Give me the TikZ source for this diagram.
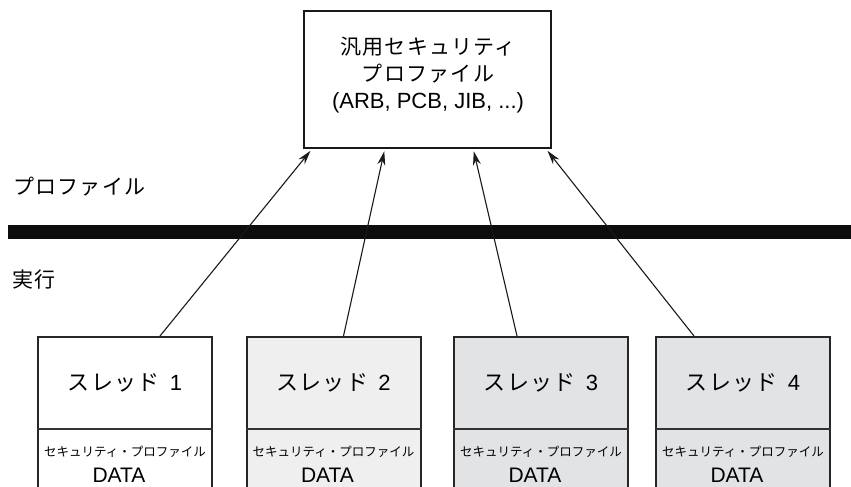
\documentclass[tikz,border=0pt]{standalone}
\usepackage{fontspec}
\setmainfont{Liberation Sans}
\newfontfamily\jp{Noto Sans CJK JP}
\newfontfamily\jpw[LetterSpace=6]{Noto Sans CJK JP}
\usetikzlibrary{arrows.meta}
\definecolor{fillA}{HTML}{EFEFEF}
\definecolor{fillB}{HTML}{E2E3E5}
\tikzset{
  profbox/.style={draw=black!90, line width=2.6pt, minimum width=247pt, minimum height=137pt, inner sep=0pt},
  thread/.style={draw=black!85, line width=2pt, minimum width=174pt, minimum height=170pt, inner sep=0pt},
  divider/.style={draw=black!80, line width=1.3pt},
  conn/.style={draw=black!90, line width=1.1pt, -{Stealth[length=14pt,width=8pt]}, shorten >=2pt},
  big/.style={font=\fontsize{21}{27}\selectfont, align=center, inner sep=0pt},
  tlabel/.style={font=\fontsize{22}{26}\selectfont, inner sep=0pt},
  small/.style={font=\fontsize{12.5}{15}\selectfont, inner sep=0pt},
  datal/.style={font=\fontsize{21}{24}\selectfont, inner sep=0pt},
}
\begin{document}
\begin{tikzpicture}[x=1pt,y=-1pt]
\clip (0,0) rectangle (851,487);
\fill[white] (0,0) rectangle (851,487);
% top profile box
\node[profbox] (prof) at (427.5,79.5) {};
\node[big] (proftext) at (428,75) {{\jpw 汎用セキュリティ}\\{\jpw プロファイル}\\{\fontsize{22}{27}\selectfont (ARB, PCB, JIB, ...)}};
% labels and bar
\node[big, anchor=west] (lprof) at (13,187) {\jpw プロファイル};
\fill[black!95] (8,225) rectangle (851,239);
\node[big, anchor=west] (lexec) at (12,280) {\jpw 実行};
% threads
\foreach \i/\cx/\col in {1/125/white, 2/333.5/fillA, 3/541/fillB, 4/743/fillB}{
  \node[thread, fill=\col] (t\i) at (\cx,422) {};
  \draw[divider] (t\i.west |- 0,429) -- (t\i.east |- 0,429);
  \node[tlabel] (t\i n) at (\cx,383) {{\jpw スレッド}\hspace{4pt} \i};
  \node[small] (t\i s) at (\cx,452) {\jp セキュリティ・プロファイル};
  \node[datal] (t\i d) at (\cx-6,475) {DATA};
}
% connectors
\draw[conn] ([xshift=35pt]t1.north) -- ([xshift=9pt]prof.south west);
\draw[conn] ([xshift=10pt]t2.north) -- ([xshift=82pt]prof.south west);
\draw[conn] ([xshift=-24pt]t3.north) -- ([xshift=-79pt]prof.south east);
\draw[conn] ([xshift=-49pt]t4.north) -- ([xshift=-6pt]prof.south east);
\end{tikzpicture}
\end{document}
